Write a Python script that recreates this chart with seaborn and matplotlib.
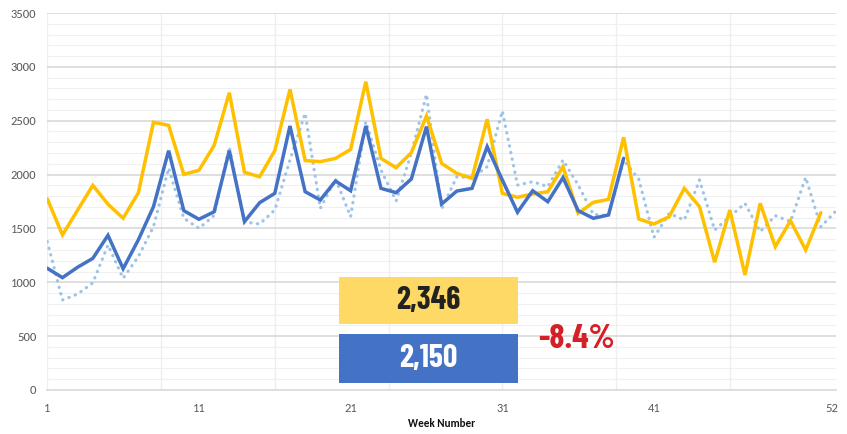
import matplotlib
matplotlib.use("Agg")
import matplotlib.pyplot as plt
import seaborn as sns
import numpy as np
import pandas as pd
from matplotlib.patches import Rectangle

# ---- data ----
last_year = [1775, 1440, 1670, 1900, 1725, 1595, 1830, 2485, 2457, 2002, 2040, 2271, 2760,
             2021, 1980, 2222, 2791, 2130, 2120, 2150, 2234, 2862, 2150, 2064, 2203, 2544,
             2104, 2011, 1965, 2513, 1826, 1789, 1820, 1841, 2073, 1640, 1742, 1770, 2346,
             1587, 1541, 1609, 1872, 1702, 1186, 1671, 1068, 1733, 1331, 1572, 1300, 1646]
this_year = [1130, 1043, 1140, 1222, 1436, 1126, 1393, 1702, 2222, 1665, 1585, 1655, 2222,
             1563, 1739, 1826, 2451, 1841, 1764, 1940, 1850, 2451, 1872, 1832, 1959, 2445,
             1727, 1847, 1872, 2259, 1950, 1650, 1850, 1748, 1971, 1665, 1594, 1625, 2151]
two_years_ago = [1377, 836, 891, 995, 1346, 1037, 1238, 1516, 2060, 1594, 1501, 1620, 2256,
                 1560, 1541, 1671, 2135, 2569, 1686, 1960, 1609, 2491, 2042, 1755, 2197, 2745,
                 1680, 1980, 1970, 2073, 2590, 1903, 1934, 1888, 2135, 1903, 1630, 1620, 2135,
                 1955, 1418, 1640, 1578, 1950, 1485, 1609, 1733, 1470, 1619, 1563, 1974, 1516,
                 1662]
x_tick_labels = ["1", "11", "21", "31", "41", "52"]
x_tick_pos = [1, 11, 21, 31, 41, 52.75]
box_top_text = "2,346"
box_bottom_text = "2,150"
change_text = "-8.4%"

df_ly = pd.DataFrame({"week": np.arange(1, len(last_year) + 1), "value": last_year})
df_ty = pd.DataFrame({"week": np.arange(1, len(this_year) + 1), "value": this_year})
df_2y = pd.DataFrame({"week": np.arange(1, len(two_years_ago) + 1), "value": two_years_ago})

sns.set_theme(style="white")
plt.rcParams["font.family"] = ["Carlito", "Liberation Sans", "DejaVu Sans"]

fig = plt.figure(figsize=(8.47, 4.34), dpi=100)
ax = fig.add_axes([47.3 / 847, (434 - 390) / 434, (836 - 47.3) / 847, 377 / 434])

# gridlines
for v in range(0, 3501, 100):
    if v % 500 == 0:
        continue
    ax.axhline(v, color="#F0F0F0", lw=0.8, zorder=0)
for v in range(500, 3501, 500):
    ax.axhline(v, color="#D9D9D9", lw=1.2, zorder=0.5)
vgrid = [1 + 7.5 * k for k in range(8)]
for v in vgrid:
    ax.axvline(v, color="#EEEEEE", lw=0.9, zorder=0.2)

sns.lineplot(data=df_2y, x="week", y="value", ax=ax, color="#9DC3E6", lw=2.3,
             linestyle=(0, (0.1, 2.0)), dash_capstyle="round", zorder=2)
sns.lineplot(data=df_ly, x="week", y="value", ax=ax, color="#FFC000", lw=2.5, zorder=3)
sns.lineplot(data=df_ty, x="week", y="value", ax=ax, color="#4472C4", lw=2.5, zorder=4)
for ln in ax.lines:
    ln.set_solid_joinstyle("miter")

ax.set_xlim(1, 53)
ax.set_ylim(0, 3500)
ax.set_yticks(range(0, 3501, 500))
ax.set_yticklabels([str(v) for v in range(0, 3501, 500)], fontsize=9, color="#595959")
ax.set_xticks(x_tick_pos)
ax.set_xticklabels(x_tick_labels, fontsize=9, color="#595959")
ax.set_xticks(vgrid[:-1], minor=True)
ax.tick_params(axis="x", which="major", length=0, pad=9)
ax.tick_params(axis="x", which="minor", length=4, width=0.9, color="#D9D9D9")
ax.tick_params(axis="y", length=0, pad=8)
ax.set_ylabel("")
ax.set_xlabel("Week Number", fontsize=8, fontweight="bold", color="#111111", labelpad=3,
              family=["Carlito", "Liberation Sans", "DejaVu Sans"])

for s in ["top", "right", "left"]:
    ax.spines[s].set_visible(False)
ax.spines["bottom"].set_color("#D9D9D9")
ax.spines["bottom"].set_linewidth(1.2)

# annotation boxes
x0 = (339 - 47.3) / 788.7
w = (518 - 339) / 788.7
ax.add_patch(Rectangle((x0, (390 - 324.3) / 377), w, (324.3 - 277.3) / 377,
                       transform=ax.transAxes, facecolor="#FFD966", edgecolor="none", zorder=6))
ax.add_patch(Rectangle((x0, (390 - 383.3) / 377), w, (383.3 - 334) / 377,
                       transform=ax.transAxes, facecolor="#4472C4", edgecolor="none", zorder=6))
num_font = ["Barlow Condensed", "DejaVu Sans"]
ax.text(x0 + w / 2, (390 - 301) / 377, box_top_text, transform=ax.transAxes, ha="center",
        va="center", fontsize=23, fontweight="bold", family=num_font, color="#222222", zorder=7)
ax.text(x0 + w / 2, (390 - 359) / 377, box_bottom_text, transform=ax.transAxes, ha="center",
        va="center", fontsize=23, fontweight="bold", family=num_font, color="white", zorder=7)
ax.text((576.5 - 47.3) / 788.7, (390 - 339) / 377, change_text, transform=ax.transAxes,
        ha="center", va="center", fontsize=24.5, fontweight="bold", family=num_font,
        color="#D42027", zorder=7)

fig.savefig("out.png", dpi=100)
